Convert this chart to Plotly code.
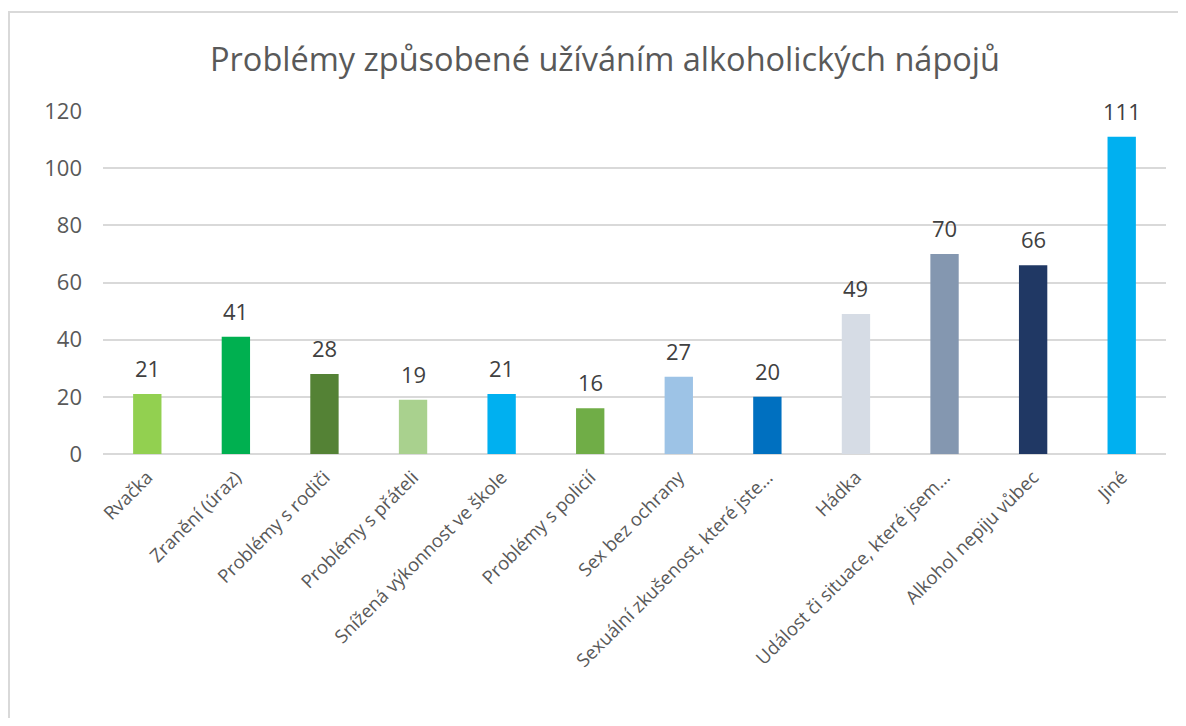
import plotly.graph_objects as go

categories = [
    "Rvačka", "Zranění (úraz)", "Problémy s rodiči", "Problémy s přáteli",
    "Snížená výkonnost ve škole", "Problémy s policií", "Sex bez ochrany",
    "Sexuální zkušenost, které jste…", "Hádka", "Událost či situace, které jsem…",
    "Alkohol nepiju vůbec", "Jiné",
]
counts = [21, 41, 28, 19, 21, 16, 27, 20, 49, 70, 66, 111]
bar_colors = [
    "#92D050", "#00B050", "#548235", "#A9D18E", "#00B0F0", "#70AD47",
    "#9DC3E6", "#0070C0", "#D6DCE5", "#8497B0", "#203864", "#00B0F0",
]
y_ticks = [0, 20, 40, 60, 80, 100, 120]

TXT = "#595959"
FONT = "Open Sans"
W, H = 1170, 710
L, T, R, B = 95, 103, 12, 264

fig = go.Figure(go.Bar(x=categories, y=counts, marker=dict(color=bar_colors, line=dict(width=0)), width=0.32))

# data labels above bars
for c, v in zip(categories, counts):
    fig.add_annotation(x=c, y=v, text=str(v), showarrow=False, yanchor="bottom", yshift=9,
                       font=dict(family=FONT, size=22, color="#404040"))

pw = W - L - R
ph = H - T - B
fig.update_layout(
    width=W, height=H,
    paper_bgcolor="white", plot_bgcolor="white",
    margin=dict(l=L, r=R, t=T, b=B),
    title=dict(text="Problémy způsobené užíváním alkoholických nápojů", x=597 / W, xanchor="center",
               y=1 - 52 / H, yanchor="middle", yref="container",
               font=dict(family=FONT, size=32.5, color=TXT)),
    showlegend=False,
    font=dict(family=FONT, color=TXT),
    xaxis=dict(tickangle=-45, tickfont=dict(size=18.5, color=TXT), showgrid=False, ticks="",
               showline=False, ticklabelstandoff=8),
    yaxis=dict(range=[0, 120], tickvals=y_ticks, tickfont=dict(size=22, color=TXT),
               showgrid=True, gridcolor="#D9D9D9", gridwidth=2, zeroline=True,
               zerolinecolor="#D9D9D9", zerolinewidth=2, ticklabelstandoff=20),
    shapes=[dict(type="rect", xref="paper", yref="paper",
                 x0=(1 - L) / pw, x1=(W + 20 - L) / pw,
                 y0=-(B + 20) / ph, y1=(ph + T - 4) / ph,
                 line=dict(color="#D9D9D9", width=2), fillcolor="rgba(0,0,0,0)", layer="below")],
)

fig.write_html("out.html")
